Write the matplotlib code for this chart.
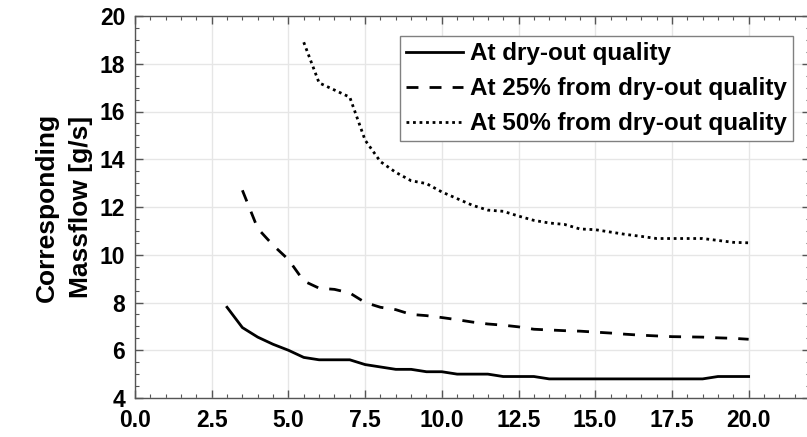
import matplotlib
matplotlib.use("Agg")
import matplotlib.pyplot as plt
from matplotlib.ticker import MultipleLocator, FormatStrFormatter

plt.rcParams['font.family'] = ['Liberation Sans', 'DejaVu Sans']
plt.rcParams['font.weight'] = 'bold'

x_dry = [3.0, 3.5, 4.0, 4.5, 5.0, 5.5, 6.0, 6.5, 7.0, 7.5, 8.0, 8.5, 9.0, 9.5, 10.0,
         10.5, 11.0, 11.5, 12.0, 12.5, 13.0, 13.5, 14.0, 14.5, 15.0, 15.5, 16.0, 16.5,
         17.0, 17.5, 18.0, 18.5, 19.0, 19.5, 20.0]
m_dry = [7.8, 6.95, 6.55, 6.25, 6.0, 5.7, 5.6, 5.6, 5.6, 5.4, 5.3, 5.2, 5.2, 5.1, 5.1,
         5.0, 5.0, 5.0, 4.9, 4.9, 4.9, 4.8, 4.8, 4.8, 4.8, 4.8, 4.8, 4.8,
         4.8, 4.8, 4.8, 4.8, 4.9, 4.9, 4.9]

x_25 = [3.5, 4.0, 4.5, 5.0, 5.5, 6.0, 6.5, 7.0, 7.5, 8.0, 8.5, 9.0, 9.5, 10.0,
        10.5, 11.0, 11.5, 12.0, 12.5, 13.0, 13.5, 14.0, 14.5, 15.0, 15.5, 16.0, 16.5,
        17.0, 17.5, 18.0, 18.5, 19.0, 19.5, 20.0]
m_25 = [12.7, 11.1, 10.4, 9.8, 8.9, 8.6, 8.55, 8.4, 8.0, 7.8, 7.7, 7.5, 7.45, 7.37,
        7.28, 7.18, 7.1, 7.05, 6.98, 6.88, 6.85, 6.82, 6.8, 6.76, 6.72, 6.67, 6.63,
        6.6, 6.57, 6.56, 6.55, 6.52, 6.5, 6.46]

x_50 = [5.5, 6.0, 6.5, 7.0, 7.5, 8.0, 8.5, 9.0, 9.5, 10.0,
        10.5, 11.0, 11.5, 12.0, 12.5, 13.0, 13.5, 14.0, 14.5, 15.0, 15.5, 16.0, 16.5,
        17.0, 17.5, 18.0, 18.5, 19.0, 19.5, 20.0]
m_50 = [18.9, 17.2, 16.9, 16.6, 14.8, 13.9, 13.45, 13.1, 12.98, 12.63,
        12.35, 12.07, 11.87, 11.82, 11.62, 11.44, 11.33, 11.27, 11.08, 11.05, 10.95, 10.85, 10.77,
        10.68, 10.68, 10.68, 10.68, 10.6, 10.52, 10.5]

labels = ['At dry-out quality', 'At 25% from dry-out quality', 'At 50% from dry-out quality']
ylabel = 'Corresponding\nMassflow [g/s]'

W, H = 807, 437
fig = plt.figure(figsize=(W / 100, H / 100), dpi=100)
ax = fig.add_axes([135 / W, 1 - 398 / H, (810 - 135) / W, (398 - 16) / H])

ax.plot(x_dry, m_dry, color='black', lw=2.0, ls='-', label=labels[0])
ax.plot(x_25, m_25, color='black', lw=2.0, ls=(0, (4.3, 4.0)), label=labels[1])
ax.plot(x_50, m_50, color='black', lw=2.0, ls=(0, (1.0, 1.35)), label=labels[2])

ax.set_xlim(0, 22)
ax.set_ylim(4, 20)
ax.xaxis.set_major_locator(MultipleLocator(2.5))
ax.xaxis.set_minor_locator(MultipleLocator(0.5))
ax.yaxis.set_major_locator(MultipleLocator(2))
ax.yaxis.set_minor_locator(MultipleLocator(0.5))
ax.xaxis.set_major_formatter(FormatStrFormatter('%.1f'))
ax.yaxis.set_major_formatter(FormatStrFormatter('%d'))

ax.grid(True, which='major', color='#e6e6e6', lw=1.0)
ax.set_axisbelow(True)
for s in ax.spines.values():
    s.set_color('#555555')
    s.set_linewidth(1.0)
ax.tick_params(which='both', direction='in', top=True, right=True, color='#555555',
               labelsize=16.5)
ax.tick_params(axis='x', which='major', pad=8)
ax.tick_params(axis='y', which='major', pad=7)
ax.tick_params(which='major', length=6, width=1.0)
ax.tick_params(which='minor', length=3, width=0.8)
for t in ax.get_xticklabels() + ax.get_yticklabels():
    t.set_fontweight('bold')

ax.set_ylabel(ylabel, fontsize=19, fontweight='bold', labelpad=5, linespacing=1.5)

leg = ax.legend(loc='upper right', bbox_to_anchor=(793 / W, 1 - 36 / H),
                bbox_transform=fig.transFigure, borderaxespad=0,
                handlelength=2.35, handletextpad=0.3,
                fancybox=False, framealpha=1, edgecolor='#808080',
                borderpad=0.25, labelspacing=0.5,
                prop={'weight': 'bold', 'size': 17.5})
leg.get_frame().set_linewidth(1.0)

fig.savefig('out.png', dpi=100)
